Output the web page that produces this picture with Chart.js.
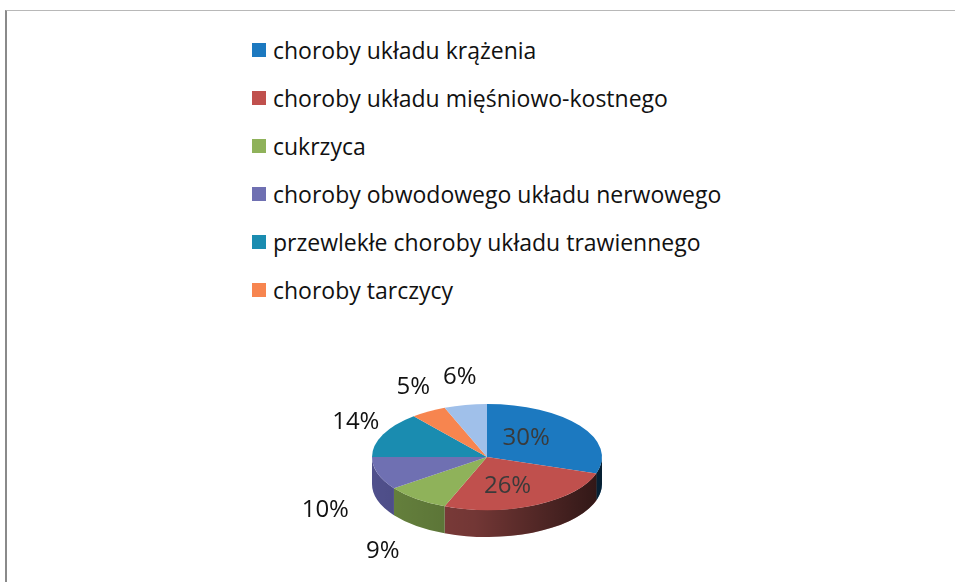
<!DOCTYPE html>
<html>
<head>
<meta charset="utf-8">
<script src="https://cdn.jsdelivr.net/npm/chart.js@4.4.1/dist/chart.umd.min.js"></script>
<style>
    html, body { margin: 0; padding: 0; background: #fff; }
    #wrap { position: relative; width: 955px; height: 582px; overflow: hidden; }
    #frame { position: absolute; left: 5px; top: 10px; right: 0; bottom: 0; border-top: 1px solid #b8b8b8; border-left: 2px solid #8a8a8a; }
    #legend { position: absolute; left: 252px; top: 26px; font-family: 'Open Sans', sans-serif; font-size: 23px; color: #111; }
    .item { height: 48px; display: flex; align-items: center; white-space: nowrap; }
    .box { width: 14px; height: 14px; margin-right: 7px; flex: none; }
    canvas { position: absolute; left: 0; top: 0; }
</style>
</head>
<body>
<div id="wrap">
    <div id="frame"></div>
    <div id="legend"></div>
    <canvas id="pie" width="955" height="582"></canvas>
</div>
<script>
const categories = [
    'choroby układu krążenia',
    'choroby układu mięśniowo-kostnego',
    'cukrzyca',
    'choroby obwodowego układu nerwowego',
    'przewlekłe choroby układu trawiennego',
    'choroby tarczycy',
    ''
];
const shares = [30, 26, 9, 10, 14, 5, 6];
const shareLabels = ['30%', '26%', '9%', '10%', '14%', '5%', '6%'];

const sliceColors = ['#1c79c0', '#c0504d', '#8fb25a', '#6f70b2', '#1a8cb0', '#f7854f', '#a0c0ea'];
const sideColors = ['#135a90', '#86403e', '#67833e', '#50508c', '#126782', '#b8613a', '#7890b0'];

const TILT = 53 / 115;   // vertical squash of the pie
const DEPTH = 27;        // thickness of the pie

// legend (only named categories)
const legendEl = document.getElementById('legend');
categories.forEach((name, i) => {
    if (!name) return;
    const row = document.createElement('div');
    row.className = 'item';
    row.innerHTML = '<span class="box" style="background:' + sliceColors[i] + '"></span><span>' + name + '</span>';
    legendEl.appendChild(row);
});

function squash(ctx, cx, cy) {
    ctx.translate(cx, cy);
    ctx.scale(1, TILT);
    ctx.translate(-cx, -cy);
}

const pie3d = {
    id: 'pie3d',
    beforeDatasetsDraw(chart) {
        const ctx = chart.ctx;
        const arcs = chart.getDatasetMeta(0).data;
        const cx = arcs[0].x, cy = arcs[0].y, r = arcs[0].outerRadius;
        const ry = r * TILT;
        // side walls of the front half
        arcs.forEach((arc, i) => {
            const a0 = Math.max(arc.startAngle, 0);
            const a1 = Math.min(arc.endAngle, Math.PI);
            if (a1 <= a0) return;
            ctx.beginPath();
            ctx.ellipse(cx, cy, r, ry, 0, a0, a1);
            ctx.lineTo(cx + r * Math.cos(a1), cy + ry * Math.sin(a1) + DEPTH);
            ctx.ellipse(cx, cy + DEPTH, r, ry, 0, a1, a0, true);
            ctx.closePath();
            ctx.fillStyle = sideColors[i];
            ctx.fill();
        });
        // shading toward the right
        ctx.save();
        ctx.beginPath();
        ctx.ellipse(cx, cy, r, ry, 0, 0, Math.PI);
        ctx.lineTo(cx - r, cy + DEPTH);
        ctx.ellipse(cx, cy + DEPTH, r, ry, 0, Math.PI, 0, true);
        ctx.closePath();
        const g = ctx.createLinearGradient(cx - r, 0, cx + r, 0);
        g.addColorStop(0, 'rgba(0,0,0,0)');
        g.addColorStop(0.45, 'rgba(0,0,0,0.15)');
        g.addColorStop(1, 'rgba(0,0,0,0.65)');
        ctx.fillStyle = g;
        ctx.fill();
        ctx.restore();

        ctx.save();
        squash(ctx, cx, cy);
    },
    afterDatasetsDraw(chart) {
        const ctx = chart.ctx;
        ctx.restore();
        const arcs = chart.getDatasetMeta(0).data;
        ctx.save();
        ctx.font = '24px "Open Sans"';
        ctx.textAlign = 'center';
        ctx.textBaseline = 'middle';
        arcs.forEach((arc, i) => {
            const mid = (arc.startAngle + arc.endAngle) / 2;
            const c = Math.cos(mid), s = Math.sin(mid);
            const r = arc.outerRadius, ry = r * TILT;
            let x, y;
            if (shares[i] >= 20) {
                x = arc.x + c * r * 0.42;
                y = arc.y + s * ry * 0.6;
                ctx.fillStyle = '#3a3a3a';
            } else if (s < 0) {
                x = arc.x + c * (r + 30);
                y = arc.y + s * (ry + 28);
                ctx.fillStyle = '#111';
            } else {
                x = arc.x + c * (r + 55);
                y = arc.y + s * (ry + 32) + DEPTH;
                ctx.fillStyle = '#111';
            }
            ctx.fillText(shareLabels[i], x, y);
        });
        ctx.restore();
    }
};

new Chart(document.getElementById('pie').getContext('2d'), {
    type: 'pie',
    data: {
        labels: categories,
        datasets: [{
            data: shares,
            backgroundColor: sliceColors,
            borderWidth: 0,
        }],
    },
    options: {
        responsive: false,
        animation: false,
        layout: { padding: { left: 372, right: 353, top: 342, bottom: 10 } },
        plugins: {
            legend: { display: false },
            tooltip: { enabled: false },
        },
    },
    plugins: [pie3d],
});
</script>
</body>
</html>
